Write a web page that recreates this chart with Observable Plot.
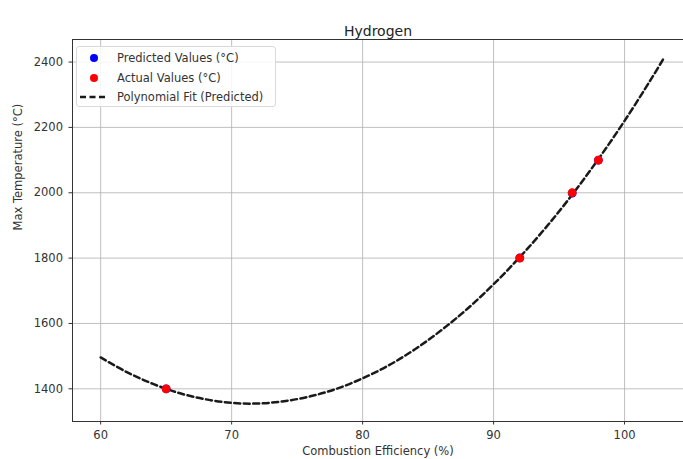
<!DOCTYPE html>
<html>
<head>
<meta charset="utf-8">
<script src="https://cdn.jsdelivr.net/npm/d3@7"></script>
<script src="https://cdn.jsdelivr.net/npm/@observablehq/plot@0.6"></script>
<style>
  html, body { margin: 0; padding: 0; background: #fff; }
  #chart { position: relative; width: 683px; height: 459px; overflow: hidden; font-family: "DejaVu Sans", sans-serif; }
  .legend { position: absolute; left: 76px; top: 46px; width: 200px; height: 61px; box-sizing: border-box;
            border: 1px solid #d9d9d9; border-radius: 3px; background: rgba(255,255,255,0.85);
            font-size: 11.5px; color: #333; }
  .legend .row { position: absolute; left: 0; height: 16px; display: flex; align-items: center; }
  .legend svg { width: 40px; height: 16px; }
</style>
</head>
<body>
<div id="chart"></div>
<script>
// Measured points: combustion efficiency (%) vs. max flame temperature (°C)
const efficiency = [65, 92, 96, 98];
const actualTemp = [1400, 1800, 2000, 2100];
const predictedTemp = [1400, 1801, 1999, 2100];

// Quadratic fit curve sampled along the efficiency range
const fitEfficiency = [60, 62, 64, 66, 68, 70, 72, 74, 76, 78, 80, 82, 84, 86, 88, 90, 92, 94, 96, 98, 100, 102, 103];
const fitTemp = [1496, 1451, 1415, 1387, 1368, 1357, 1355, 1362, 1377, 1400, 1432, 1472, 1521, 1579, 1645, 1720, 1803, 1894, 1994, 2103, 2220, 2346, 2412];

const xTicks = [60, 70, 80, 90, 100];
const yTicks = [1400, 1600, 1800, 2000, 2200, 2400];
const xDomain = [57.85, 104.5];
const yDomain = [1300, 2469];

const points = efficiency.map((e, i) => ({e, actual: actualTemp[i], predicted: predictedTemp[i]}));
const fit = fitEfficiency.map((e, i) => ({e, t: fitTemp[i]}));

const plot = Plot.plot({
  width: 683,
  height: 459,
  marginLeft: 72,
  marginRight: 0,
  marginTop: 39,
  marginBottom: 38,
  style: {fontFamily: "DejaVu Sans, sans-serif", fontSize: "11.5px", color: "#333", background: "#fff"},
  x: {domain: xDomain, label: null},
  y: {domain: yDomain, label: null},
  marks: [
    Plot.gridX(xTicks, {stroke: "#b0b0b0", strokeOpacity: 0.8}),
    Plot.gridY(yTicks, {stroke: "#b0b0b0", strokeOpacity: 0.8}),
    Plot.ruleX([xDomain[0]], {stroke: "#333", strokeWidth: 1}),
    Plot.ruleY(yDomain, {stroke: "#333", strokeWidth: 1}),
    Plot.axisX(xTicks, {tickSize: 3.5, tickPadding: 6, tickFormat: d => String(d), stroke: "#333", label: null}),
    Plot.axisY(yTicks, {tickSize: 3.5, tickPadding: 6, tickFormat: d => String(d), stroke: "#333", label: null}),
    Plot.line(fit, {x: "e", y: "t", curve: "catmull-rom", stroke: "#1a1a1a", strokeWidth: 2.5, strokeDasharray: "6,3.5"}),
    Plot.dot(points, {x: "e", y: "predicted", r: 4.4, fill: "blue"}),
    Plot.dot(points, {x: "e", y: "actual", r: 4.4, fill: "red"}),
    Plot.text(["Hydrogen"], {frameAnchor: "top", dy: -13, fontSize: 14, fill: "#222", text: d => d}),
    Plot.text(["Combustion Efficiency (%)"], {frameAnchor: "bottom", dy: 33, fontSize: 11.5, fill: "#333", text: d => d}),
    Plot.text(["Max Temperature (°C)"], {frameAnchor: "left", dx: -54, rotate: -90, fontSize: 11.5, fill: "#333", text: d => d})
  ]
});

const chart = document.getElementById("chart");
chart.appendChild(plot);

// Legend box in the upper-left corner of the axes
const legendItems = [
  {label: "Predicted Values (°C)", kind: "dot", color: "blue"},
  {label: "Actual Values (°C)", kind: "dot", color: "red"},
  {label: "Polynomial Fit (Predicted)", kind: "dash", color: "#1a1a1a"}
];
const legend = document.createElement("div");
legend.className = "legend";
legendItems.forEach((item, i) => {
  const row = document.createElement("div");
  row.className = "row";
  row.style.top = (3 + i * 19.5) + "px";
  const glyph = item.kind === "dot"
    ? `<circle cx="17" cy="8" r="4" fill="${item.color}"/>`
    : `<line x1="3" x2="31" y1="8" y2="8" stroke="${item.color}" stroke-width="2.5" stroke-dasharray="6,3.5"/>`;
  row.innerHTML = `<svg viewBox="0 0 40 16">${glyph}</svg><span>${item.label}</span>`;
  legend.appendChild(row);
});
chart.appendChild(legend);
</script>
</body>
</html>
